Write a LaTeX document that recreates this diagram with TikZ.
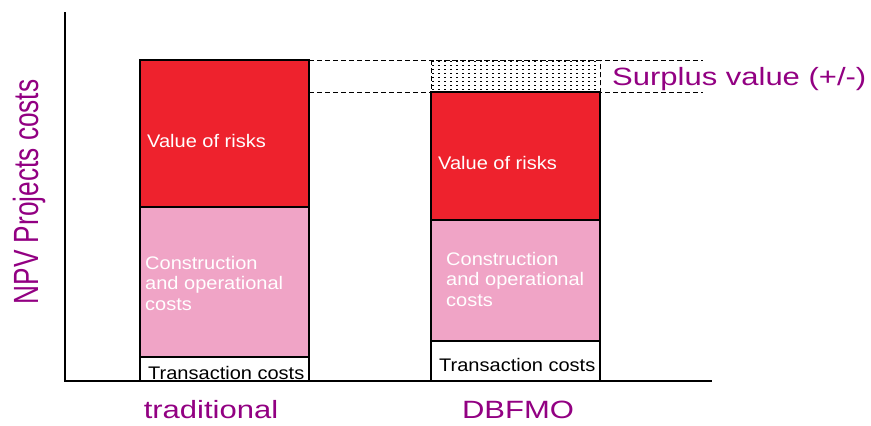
\documentclass[tikz,border=0pt]{standalone}
\usepackage{fontspec}
\setmainfont{Liberation Sans}
\newfontfamily\widesans[FakeStretch=1.24]{Liberation Sans}
\newfontfamily\labelsans[FakeStretch=1.1]{Liberation Sans}
\newfontfamily\narrowsans[FakeStretch=0.75]{Liberation Sans}
\usetikzlibrary{positioning, patterns}
\definecolor{riskred}{RGB}{238,34,45}
\definecolor{costpink}{RGB}{240,164,198}
\definecolor{plum}{RGB}{146,0,130}
\pgfdeclarepatternformonly{surplusdots}{\pgfqpoint{-1pt}{-1pt}}{\pgfqpoint{2pt}{2pt}}{\pgfqpoint{6pt}{4pt}}{%
    \pgfpathrectangle{\pgfqpoint{0pt}{0pt}}{\pgfqpoint{1.6pt}{1.4pt}}\pgfusepath{fill}}

\begin{document}
\begin{tikzpicture}[x=1pt, y=-1pt,
        seg/.style={draw, line width=1.3pt, minimum width=169, inner sep=0pt, outer sep=0pt},
        whitelbl/.style={text=white, font=\labelsans\fontsize{18.2}{20.5}\selectfont, align=left, anchor=west, inner sep=0pt},
        blacklbl/.style={text=black, font=\labelsans\fontsize{18.2}{20.5}\selectfont, anchor=west, inner sep=0pt},
        plumlbl/.style={text=plum, font=\widesans\fontsize{25}{28}\selectfont, inner sep=0pt},
        guide/.style={line width=0.9pt, dash pattern=on 5pt off 3pt}]
    \useasboundingbox (0,0) rectangle (871,426);
    % traditional bar
    \node[seg, fill=riskred, minimum height=147, anchor=north west] (tradrisk) at (140,60) {};
    \node[seg, fill=costpink, minimum height=150, below=0pt of tradrisk] (tradcost) {};
    \node[seg, fill=white, minimum height=24, below=0pt of tradcost] (tradtrans) {};
    % DBFMO bar
    \node[seg, draw=none, pattern=surplusdots, minimum height=32, anchor=north west] (dbsurplus) at (431,60) {};
    \node[seg, fill=riskred, minimum height=128, below=0pt of dbsurplus] (dbrisk) {};
    \node[seg, fill=costpink, minimum height=121, below=0pt of dbrisk] (dbcost) {};
    \node[seg, fill=white, minimum height=40, below=0pt of dbcost] (dbtrans) {};
    \draw[guide] (dbsurplus.north west) rectangle (dbsurplus.south east);
    % axes
    \coordinate (ytop) at (65,12);
    \coordinate (origin) at (65,381);
    \coordinate (xend) at (712,381);
    \draw[line width=1.3pt] (ytop) -- (origin) -- (xend);
    % surplus guides
    \coordinate (topend) at (703,60);
    \coordinate (lowend) at (703,92);
    \draw[guide] (tradrisk.north east) -- (topend);
    \draw[guide] (tradrisk.north east |- dbrisk.north) -- (lowend);
    % labels
    \node[whitelbl] (tradrisklbl) at (147,141) {Value of risks};
    \node[whitelbl] (dbrisklbl) at (438,163) {Value of risks};
    \node[whitelbl] (tradcostlbl) at (145,283) {Construction\\and operational\\costs};
    \node[whitelbl] (dbcostlbl) at (446,279) {Construction\\and operational\\costs};
    \node[blacklbl] (tradtranslbl) at (148,373) {Transaction costs};
    \node[blacklbl] (dbtranslbl) at (439,365) {Transaction costs};
    \node[plumlbl, anchor=west] (surpluslbl) at (612,79) {Surplus value (+/-)};
    \node[plumlbl] (tradlbl) at (211,410) {traditional};
    \node[plumlbl] (dblbl) at (518,410) {DBFMO};
    \node[plumlbl, font=\narrowsans\fontsize{35}{37}\selectfont, rotate=90] (ylbl) at (29,192) {NPV Projects costs};
\end{tikzpicture}
\end{document}
